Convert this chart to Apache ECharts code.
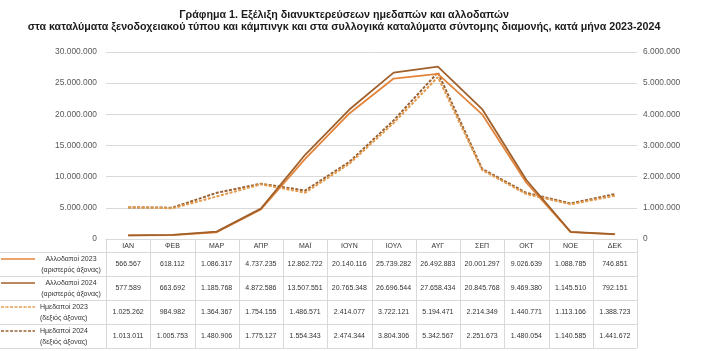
<!DOCTYPE html>
<html>

<head>
    <meta charset="utf-8">
    <script src="https://cdn.jsdelivr.net/npm/echarts@6/dist/echarts.min.js"></script>
    <style>
        html, body { margin: 0; padding: 0; background: #fff; }
        #main { width: 702px; height: 351px; }
    </style>
</head>

<body>
    <div id="main"></div>
    <script type="text/javascript">

        var months = ['ΙΑΝ', 'ΦΕΒ', 'ΜΑΡ', 'ΑΠΡ', 'ΜΑΪ', 'ΙΟΥΝ', 'ΙΟΥΛ', 'ΑΥΓ', 'ΣΕΠ', 'ΟΚΤ', 'ΝΟΕ', 'ΔΕΚ'];
        var foreign2023 = [566567, 618112, 1086317, 4737235, 12862722, 20140116, 25739282, 26492883, 20001297, 9026639, 1088785, 746851];
        var foreign2024 = [577589, 663692, 1185768, 4872586, 13507551, 20765348, 26696544, 27658434, 20845768, 9469380, 1145510, 792151];
        var domestic2023 = [1025262, 984982, 1364367, 1754155, 1486571, 2414077, 3722121, 5194471, 2214349, 1440771, 1113166, 1388723];
        var domestic2024 = [1013011, 1005753, 1480906, 1775127, 1554343, 2474344, 3804306, 5342567, 2251673, 1480054, 1140585, 1441672];

        var seriesNames = ['Αλλοδαποί 2023', 'Αλλοδαποί 2024', 'Ημεδαποί 2023', 'Ημεδαποί 2024'];
        var axisNotes = ['(αριστερός άξονας)', '(αριστερός άξονας)', '(δεξιός άξονας)', '(δεξιός άξονας)'];
        var seriesColors = ['#e3843a', '#a0602b', '#e39a4c', '#9a6233'];

        var FONT = '"Liberation Sans", Arial, sans-serif';

        // 1.234.567 style
        function fmt(v) {
            return String(Math.round(v)).replace(/\B(?=(\d{3})+(?!\d))/g, '.');
        }

        var chart = echarts.init(document.getElementById('main'));

        var option = {
            animation: false,
            textStyle: { fontFamily: FONT },
            title: {
                text: 'Γράφημα 1. Εξέλιξη διανυκτερεύσεων ημεδαπών και αλλοδαπών\nστα καταλύματα ξενοδοχειακού τύπου και κάμπινγκ και στα συλλογικά καταλύματα σύντομης διαμονής, κατά μήνα 2023-2024',
                left: 339,
                top: 4,
                textAlign: 'center',
                textStyle: { fontFamily: FONT, fontSize: 10.7, fontWeight: 'bold', color: '#1a1a1a', lineHeight: 12 }
            },
            grid: { left: 106, right: 65, top: 52, bottom: 112 },
            xAxis: {
                type: 'category',
                data: months,
                boundaryGap: true,
                axisLine: { lineStyle: { color: '#d9d9d9' } },
                axisTick: { show: false },
                axisLabel: { fontSize: 7, color: '#333', margin: 4, interval: 0 }
            },
            yAxis: [{
                type: 'value', min: 0, max: 30000000, interval: 5000000,
                axisLine: { show: false }, axisTick: { show: false },
                splitLine: { lineStyle: { color: '#d9d9d9' } },
                axisLabel: { fontSize: 8.4, color: '#595959', margin: 9, formatter: fmt }
            }, {
                type: 'value', min: 0, max: 6000000, interval: 1000000,
                axisLine: { show: false }, axisTick: { show: false },
                splitLine: { show: false },
                axisLabel: { fontSize: 8.4, color: '#595959', margin: 6, formatter: fmt }
            }],
            series: [{
                name: seriesNames[0], type: 'line', yAxisIndex: 0, data: foreign2023,
                symbol: 'none', lineStyle: { color: seriesColors[0], width: 1.8 }, z: 3
            }, {
                name: seriesNames[1], type: 'line', yAxisIndex: 0, data: foreign2024,
                symbol: 'none', lineStyle: { color: seriesColors[1], width: 1.8 }, z: 4
            }, {
                name: seriesNames[2], type: 'line', yAxisIndex: 1, data: domestic2023,
                symbol: 'none', lineStyle: { color: seriesColors[2], width: 2, type: [3, 1.5] }, z: 2
            }, {
                name: seriesNames[3], type: 'line', yAxisIndex: 1, data: domestic2024,
                symbol: 'none', lineStyle: { color: seriesColors[3], width: 2, type: [3, 1.5] }, z: 1
            }]
        };
        chart.setOption(option);

        // data table under the plot, columns taken from the category axis
        var rows = [foreign2023, foreign2024, domestic2023, domestic2024];
        var centers = months.map(function (m) { return chart.convertToPixel({ xAxisIndex: 0 }, m); });
        var band = centers[1] - centers[0];
        var xLeft = centers[0] - band / 2;
        var xRight = centers[centers.length - 1] + band / 2;
        var yTop = chart.convertToPixel({ yAxisIndex: 0 }, 0);
        var headerH = 13, rowH = 24;
        var yEnd = yTop + headerH + rows.length * rowH;
        var lineColor = '#d9d9d9';
        var g = [];

        for (var i = 0; i <= months.length; i++) {
            var x = Math.round(xLeft + i * band) + 0.5;
            g.push({ type: 'line', shape: { x1: x, y1: yTop, x2: x, y2: yEnd }, style: { stroke: lineColor, lineWidth: 1 }, silent: true });
        }
        for (var r = 0; r <= rows.length; r++) {
            var y = Math.round(yTop + headerH + r * rowH) + 0.5;
            g.push({ type: 'line', shape: { x1: 0, y1: y, x2: xRight, y2: y }, style: { stroke: lineColor, lineWidth: 1 }, silent: true });
        }
        rows.forEach(function (vals, r) {
            var cy = yTop + headerH + r * rowH + rowH / 2;
            vals.forEach(function (v, c) {
                g.push({
                    type: 'text', x: centers[c], y: cy, silent: true,
                    style: { text: fmt(v), fontFamily: FONT, fontSize: 7, fill: '#333', align: 'center', verticalAlign: 'middle' }
                });
            });
            var dashed = r >= 2;
            g.push({
                type: 'line', silent: true,
                shape: { x1: 1, y1: cy - 5, x2: 35, y2: cy - 5 },
                style: { stroke: seriesColors[r], lineWidth: 1.6, lineDash: dashed ? [3, 1.5] : null }
            });
            var tx = dashed ? 40 : 71;
            var al = dashed ? 'left' : 'center';
            g.push({
                type: 'text', x: tx, y: cy - 5, silent: true,
                style: { text: seriesNames[r], fontFamily: FONT, fontSize: 7, fill: '#333', align: al, verticalAlign: 'middle' }
            });
            g.push({
                type: 'text', x: tx, y: cy + 6, silent: true,
                style: { text: axisNotes[r], fontFamily: FONT, fontSize: 7, fill: '#333', align: al, verticalAlign: 'middle' }
            });
        });

        chart.setOption({ graphic: g });
    </script>
</body>

</html>
